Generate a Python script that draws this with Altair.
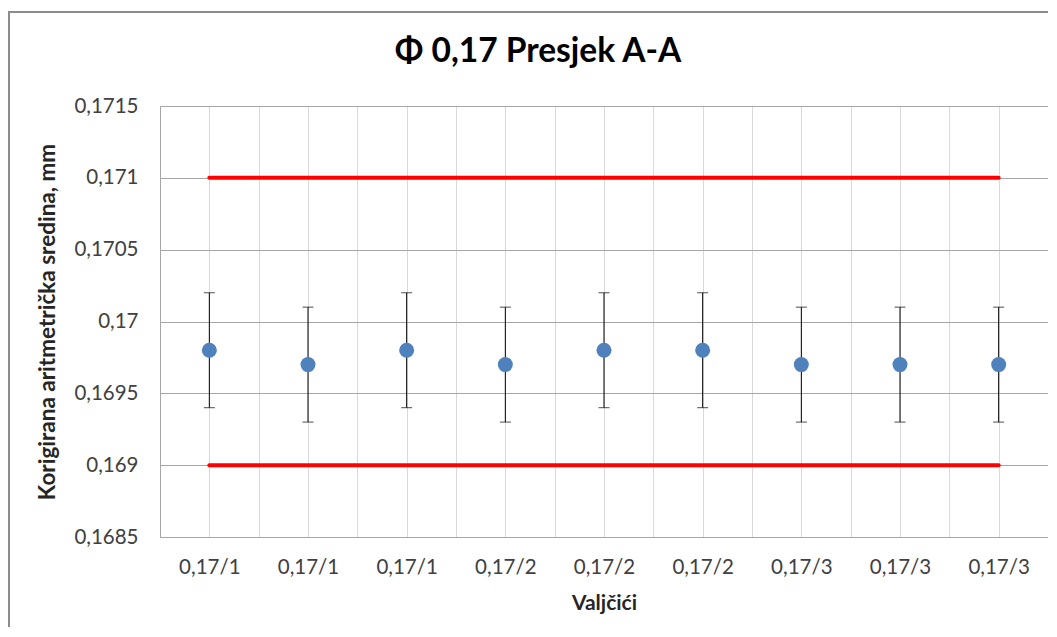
import json
import altair as alt
import pandas as pd

categories = ["0,17/1", "0,17/1", "0,17/1", "0,17/2", "0,17/2", "0,17/2", "0,17/3", "0,17/3", "0,17/3"]
means = [0.1698, 0.1697, 0.1698, 0.1697, 0.1698, 0.1698, 0.1697, 0.1697, 0.1697]
errors = [0.0004] * 9
upper_limit = 0.171
lower_limit = 0.169
y_ticks = [0.1685, 0.169, 0.1695, 0.17, 0.1705, 0.171, 0.1715]
title_text = "Φ 0,17 Presjek A-A"

n = len(categories)
df = pd.DataFrame({"idx": range(n), "cat": categories, "mean": means, "err": errors})
df["pos"] = df["idx"] + 0.5
df["lo"] = df["mean"] - df["err"]
df["hi"] = df["mean"] + df["err"]

limits = pd.DataFrame({
    "start": [0.5, 0.5],
    "end": [n - 0.5, n - 0.5],
    "value": [upper_limit, lower_limit],
})

FONT = "Lato"
W, H = 888, 431

x_ticks = [i / 2 for i in range(2 * n + 1)]
label_expr = (
    "(datum.value % 1 == 0.5) ? " + json.dumps(categories) + "[floor(datum.value)] : ''"
)

x_scale = alt.Scale(domain=[0, n], nice=False, zero=False)
y_scale = alt.Scale(domain=[0.1685, 0.1715], nice=False, zero=False)

x_axis = alt.Axis(
    values=x_ticks, labelExpr=label_expr, title="Valjčići", grid=True,
    gridColor="#d9d9d9", gridWidth=1, tickSize=0, domainColor="#a6a6a6",
    labelFont=FONT, labelFontSize=20.5, labelColor="#404040", labelPadding=20,
    labelOverlap=False, labelFlush=False,
    titleFont=FONT, titleFontSize=21, titleFontWeight="bold", titleColor="#262626",
    titlePadding=15,
)
y_axis = alt.Axis(
    values=y_ticks, labelExpr="replace(format(datum.value, '.4~f'), '.', ',')",
    title="Korigirana aritmetrička sredina, mm", grid=True,
    gridColor="#a6a6a6", gridWidth=1, tickSize=0, domainColor="#a6a6a6",
    labelFont=FONT, labelFontSize=20.5, labelColor="#404040", labelPadding=22,
    titleFont=FONT, titleFontSize=22.5, titleFontWeight="bold", titleColor="#262626",
    titleX=-113, titleY=H / 2, titleAngle=-90, titleBaseline="middle", titleAlign="center",
)

base = alt.Chart(df)

points = base.mark_point(filled=True, size=225, opacity=1, color="#4f81bd").encode(
    x=alt.X("pos:Q", scale=x_scale, axis=x_axis),
    y=alt.Y("mean:Q", scale=y_scale, axis=y_axis),
)

bars = base.mark_rule(color="black", strokeWidth=1).encode(
    x="pos:Q", y="lo:Q", y2="hi:Q"
)
cap_lo = base.mark_tick(color="black", thickness=1, size=11, orient="horizontal").encode(
    x="pos:Q", y="lo:Q"
)
cap_hi = base.mark_tick(color="black", thickness=1, size=11, orient="horizontal").encode(
    x="pos:Q", y="hi:Q"
)

limit_lines = alt.Chart(limits).mark_rule(color="#ff0000", strokeWidth=4, strokeCap="round").encode(
    x="start:Q", x2="end:Q", y="value:Q"
)

border = alt.Chart(limits).mark_rect(fill=None, stroke="#8c8c8c", strokeWidth=2, clip=False).encode(
    x=alt.value(-151), x2=alt.value(W + 4), y=alt.value(-94), y2=alt.value(H + 200)
)

title = alt.Chart(pd.DataFrame({"t": [title_text]})).mark_text(
    font=FONT, fontSize=33.5, fontWeight="bold", color="#000000",
    align="center", baseline="middle", clip=False,
).encode(text="t:N", x=alt.value(378), y=alt.value(-54))

chart = alt.layer(border, limit_lines, bars, cap_lo, cap_hi, points, title).properties(
    width=W,
    height=H,
    autosize=alt.AutoSizeParams(type="none"),
    padding={"left": 152, "top": 98, "right": 0, "bottom": 90},
).configure_view(stroke=None).configure(background="white")

chart.save("out.html", embed_options={"renderer": "svg", "actions": False})
